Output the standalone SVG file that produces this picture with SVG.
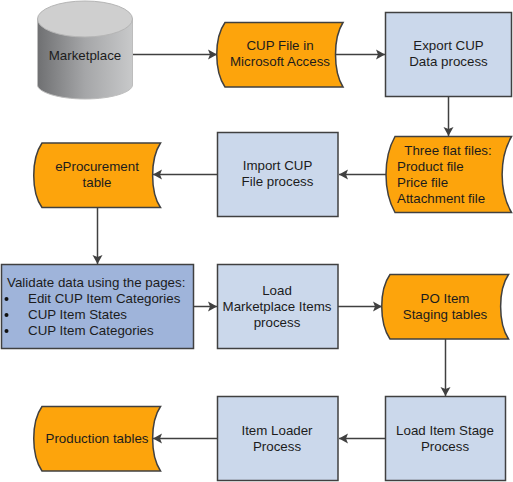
<svg xmlns="http://www.w3.org/2000/svg" width="513" height="482" viewBox="0 0 513 482">
<style>
text{font-family:"Liberation Sans",Arial,sans-serif;font-size:13.33px;fill:#1c1c1c}
.m{text-anchor:middle}
.p{fill:#cbd8eb;stroke:#404040;stroke-width:1.5}
.v{fill:#9fb4da;stroke:#404040;stroke-width:1.5}
.d{fill:#fda40c;stroke:#404040;stroke-width:1.5}
.c{fill:none;stroke:#404040;stroke-width:1.5}
#connectors path{marker-end:url(#a)}
</style>
<defs>
<marker id="a" markerUnits="userSpaceOnUse" markerWidth="10" markerHeight="12" refX="9" refY="6" orient="auto"><path d="M0 1L9 6L0 11L2 6Z" fill="#404040"/></marker>
<linearGradient id="g" x1="0" x2="1" y1="0" y2="0"><stop offset="0" stop-color="#6f7072"/><stop offset=".5" stop-color="#a5a6a8"/><stop offset="1" stop-color="#c8c9ca"/></linearGradient>
</defs>
<g id="connectors">
<path class="c" d="M133 54.500H217"/>
<path class="c" d="M336 54.500H385"/>
<path class="c" d="M448.500 97V136"/>
<path class="c" d="M386 174.500H339"/>
<path class="c" d="M217 174.500H153"/>
<path class="c" d="M97.500 208V264"/>
<path class="c" d="M194 306.500H217"/>
<path class="c" d="M338 306.500H382"/>
<path class="c" d="M445.500 339V396"/>
<path class="c" d="M385 438.500H339"/>
<path class="c" d="M217 438.500H153"/>
</g>
<g id="marketplace">
<path d="M37.500 19V85C37.500 92 58 99 85 99S132.500 92 132.500 85V19Z" fill="url(#g)" stroke="#bdbdbd"/>
<ellipse cx="85" cy="19" rx="47.500" ry="18" fill="#cfcfcf" stroke="#b5b5b5"/>
<text class="m" x="85" y="60">Marketplace</text>
</g>
<g id="cup-file">
<path class="d" d="M225 22.500H343C333 38 333 71 343 87H225C214 71 214 38 225 22.500Z"/>
<text class="m" x="280" y="50">CUP File in</text>
<text class="m" x="280" y="66">Microsoft Access</text>
</g>
<g id="export">
<rect class="p" x="385.500" y="12.500" width="126" height="84"/>
<text class="m" x="448.500" y="50">Export CUP</text>
<text class="m" x="448.500" y="66">Data process</text>
</g>
<g id="flat-files">
<path class="d" d="M395 136.500H511.500C499 158 499 191 511.500 212.500H395C383 191 383 158 395 136.500Z"/>
<text class="m" x="448" y="155">Three flat files:</text>
<text x="397" y="171">Product file</text>
<text x="397" y="187">Price file</text>
<text x="397" y="203">Attachment file</text>
</g>
<g id="import">
<rect class="p" x="217.500" y="132.500" width="120.500" height="84"/>
<text class="m" x="277.500" y="170">Import CUP</text>
<text class="m" x="277.500" y="186">File process</text>
</g>
<g id="eprocurement">
<path class="d" d="M42 143H160.500C150 159 150 192 160.500 207.500H42C31 192 31 159 42 143Z"/>
<text class="m" x="97" y="171">eProcurement</text>
<text class="m" x="97" y="187">table</text>
</g>
<g id="validate">
<rect class="v" x="1.500" y="264.500" width="192" height="84"/>
<text x="7" y="287">Validate data using the pages:</text>
<circle cx="6.500" cy="299" r="2" fill="#111"/>
<text x="28" y="303">Edit CUP Item Categories</text>
<circle cx="6.500" cy="315" r="2" fill="#111"/>
<text x="28" y="319">CUP Item States</text>
<circle cx="6.500" cy="331" r="2" fill="#111"/>
<text x="28" y="335">CUP Item Categories</text>
</g>
<g id="load-marketplace">
<rect class="p" x="217.500" y="264.500" width="120.500" height="84"/>
<text class="m" x="277" y="295">Load</text>
<text class="m" x="277" y="311">Marketplace Items</text>
<text class="m" x="277" y="327">process</text>
</g>
<g id="po-item">
<path class="d" d="M390 274.500H508.500C498 290 498 323 508.500 339H390C379 323 379 290 390 274.500Z"/>
<text class="m" x="445" y="303">PO Item</text>
<text class="m" x="445" y="319">Staging tables</text>
</g>
<g id="load-stage">
<rect class="p" x="385.500" y="396.500" width="120" height="84"/>
<text class="m" x="445" y="435">Load Item Stage</text>
<text class="m" x="445" y="451">Process</text>
</g>
<g id="item-loader">
<rect class="p" x="217.500" y="396.500" width="120.500" height="84"/>
<text class="m" x="277" y="435">Item Loader</text>
<text class="m" x="277" y="451">Process</text>
</g>
<g id="production">
<path class="d" d="M42 406.500H160.500C150 422 150 455 160.500 471H42C31 455 31 422 42 406.500Z"/>
<text class="m" x="97" y="443">Production tables</text>
</g>
</svg>
